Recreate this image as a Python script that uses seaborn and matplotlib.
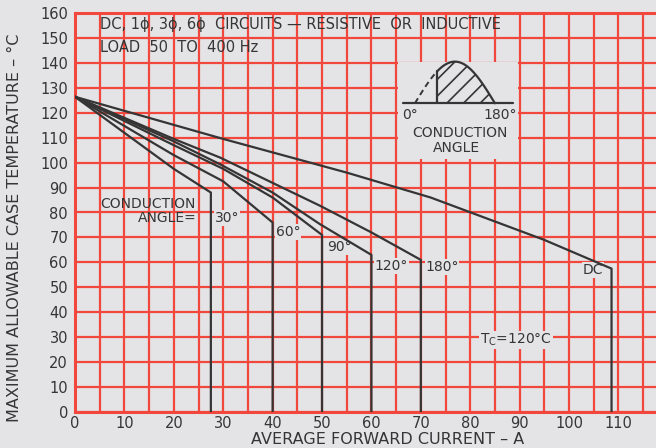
"""
Max allowable case temperature vs average forward current (rectifier derating chart)
"""

import numpy as np
import pandas as pd
import matplotlib
matplotlib.use('Agg')
import matplotlib.pyplot as plt
import seaborn as sns

sns.set_style('white')
plt.rcParams['font.family'] = ['DejaVu Sans']
plt.rcParams['hatch.linewidth'] = 1.2

INK = '#353535'
GRID_RED = '#f2473c'
PAPER = '#e4e4e6'

# Curves: current (A) / case temperature (degC)
# last point of each curve is the vertical drop to 0 at the current limit
curve_names = ['30°', '60°', '90°', '120°', '180°', 'DC']
current_30 = [0, 20, 27.5, 27.5]
temp_30 = [126.4, 97.5, 88, 0]
current_60 = [0, 20, 30, 40, 40]
temp_60 = [126.4, 103, 92.5, 76, 0]
current_90 = [0, 20, 30, 40, 50, 50]
temp_90 = [126.4, 107, 97.5, 86, 71, 0]
current_120 = [0, 20, 29.4, 40, 49.6, 60, 60]
temp_120 = [126.4, 108.5, 99.3, 88, 75.3, 63, 0]
current_180 = [0, 20, 29.4, 49.6, 60, 70, 70]
temp_180 = [126.4, 109.5, 102, 82.7, 72, 61, 0]
current_dc = [0, 30, 55, 72, 95, 108.6, 108.6]
temp_dc = [126.4, 109.5, 96, 86, 69, 57.5, 0]

all_currents = [current_30, current_60, current_90, current_120, current_180, current_dc]
all_temps = [temp_30, temp_60, temp_90, temp_120, temp_180, temp_dc]

x_ticks = list(range(0, 120, 10))
y_ticks = list(range(0, 170, 10))

rows = []
for name, xs, ys in zip(curve_names, all_currents, all_temps):
    for i, (x, y) in enumerate(zip(xs, ys)):
        rows.append({'curve': name, 'order': i, 'current': x, 'temp': y})
df = pd.DataFrame(rows)

fig = plt.figure(figsize=(6.56, 4.48), dpi=100)
fig.patch.set_facecolor(PAPER)
ax = fig.add_axes([75 / 656, 36 / 448, 581 / 656, 399 / 448])
ax.set_facecolor(PAPER)

sns.lineplot(data=df, x='current', y='temp', units='curve', estimator=None,
             sort=False, color=INK, linewidth=1.6, ax=ax, zorder=5)
ax.set_xlabel('')
ax.set_ylabel('')

ax.set_xlim(0, 117.6)
ax.set_ylim(0, 160)
ax.set_xticks(x_ticks)
ax.set_xticks(np.arange(5, 120, 10), minor=True)
ax.set_yticks(y_ticks)
ax.set_xticklabels([str(t) for t in x_ticks], fontsize=10.5, color=INK)
ax.set_yticklabels([str(t) for t in y_ticks], fontsize=10.5, color=INK)
ax.tick_params(axis='both', which='both', length=0, pad=5)
ax.tick_params(axis='x', pad=3)
ax.grid(True, which='major', color=GRID_RED, linewidth=1.6)
ax.grid(True, which='minor', axis='x', color=GRID_RED, linewidth=1.6)
ax.set_axisbelow(True)
for side in ['left', 'bottom', 'top']:
    ax.spines[side].set_color(GRID_RED)
    ax.spines[side].set_linewidth(2.2)
ax.spines['right'].set_visible(False)

# axis titles placed on the figure so they sit where the original has them
fig.text(388 / 656, 4 / 448, 'AVERAGE FORWARD CURRENT – A', fontsize=11.5, color=INK,
         ha='center', va='baseline')
fig.text(15 / 656, (448 - 228) / 448, 'MAXIMUM ALLOWABLE CASE TEMPERATURE – °C', fontsize=11.5,
         color=INK, ha='center', va='center', rotation=90)

# header text
ax.text(5, 155.5, 'DC, 1ϕ, 3ϕ, 6ϕ  CIRCUITS — RESISTIVE  OR  INDUCTIVE',
        fontsize=10.5, color=INK, va='center', ha='left')
ax.text(5, 146, 'LOAD  50  TO  400 Hz', fontsize=10.5, color=INK, va='center', ha='left')

# curve labels
ax.text(5.1, 83.4, 'CONDUCTION', fontsize=10, color=INK, va='center', ha='left')
ax.text(12.8, 77.8, 'ANGLE=', fontsize=10, color=INK, va='center', ha='left')
label_pos = [(28.3, 77.8), (40.7, 72.2), (51.0, 66.2), (60.7, 58.5), (70.9, 58.1), (102.8, 56.9)]
for name, (lx, ly) in zip(curve_names, label_pos):
    ax.text(lx, ly, name, fontsize=10, color=INK, va='center', ha='left',
            bbox=dict(facecolor=PAPER, edgecolor='none', pad=0.5), zorder=4)
ax.text(82, 28.9, r'T$_{\mathsf{C}}$=120°C', fontsize=10, color=INK, va='center', ha='left',
        bbox=dict(facecolor=PAPER, edgecolor='none', pad=0.5), zorder=4)

# inset: conduction angle sketch
ax.add_patch(plt.Rectangle((65.3, 101.5), 24.4, 38.8, facecolor=PAPER, edgecolor='none', zorder=3))
base_y = 123.8
wave_x0, wave_x1 = 68.8, 85.0
wave_h = 16.7
fire_deg = 50
deg = np.linspace(0, 180, 91)
wx = wave_x0 + deg / 180 * (wave_x1 - wave_x0)
wy = base_y + wave_h * np.sin(np.radians(deg))
on = deg >= fire_deg
ax.plot(wx[~on], wy[~on], color=INK, linewidth=1.4, linestyle=(0, (3, 2)), zorder=6)
ax.plot(wx[on], wy[on], color=INK, linewidth=1.6, zorder=6)
ax.fill_between(wx[on], base_y, wy[on], facecolor='none', edgecolor=INK, hatch='//', linewidth=0, zorder=6)
fx = wave_x0 + fire_deg / 180 * (wave_x1 - wave_x0)
ax.plot([fx, fx], [base_y, base_y + wave_h * np.sin(np.radians(fire_deg))], color=INK, linewidth=1.6, zorder=6)
ax.plot([66.4, 88.7], [base_y, base_y], color=INK, linewidth=1.6, zorder=6)
ax.text(67.8, 119, '0°', fontsize=10, color=INK, va='center', ha='center', zorder=7)
ax.text(86, 119, '180°', fontsize=10, color=INK, va='center', ha='center', zorder=7)
ax.text(77.9, 112, 'CONDUCTION', fontsize=10, color=INK, va='center', ha='center', zorder=7)
ax.text(77.3, 106, 'ANGLE', fontsize=10, color=INK, va='center', ha='center', zorder=7)

fig.savefig('out.png', dpi=100, facecolor=PAPER)
